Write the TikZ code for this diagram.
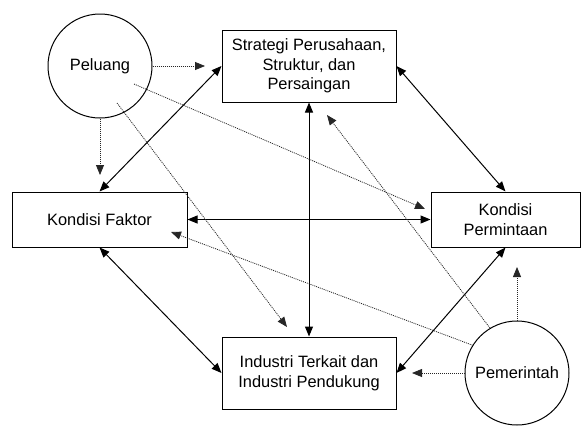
\documentclass[tikz,border=0pt]{standalone}
\usepackage{fontspec}
\setmainfont{Liberation Sans}
\usepackage{tikz}
\usetikzlibrary{arrows.meta}

\tikzset{
    kotak/.style={draw,line width=0.75pt,inner sep=0pt,align=center},
    bulat/.style={draw,circle,line width=0.75pt,inner sep=0pt,minimum size=78pt},
    panah/.style={line width=0.75pt,{Triangle[length=7.5pt,width=6pt]}-{Triangle[length=7.5pt,width=6pt]}},
    titik/.style={black!85,line width=0.6pt,dash pattern=on 0.75pt off 0.75pt,-{Triangle[length=7.5pt,width=6pt]}}
}

\begin{document}
\begin{tikzpicture}[x=0.75pt,y=-0.75pt,font=\fontsize{12.3}{14.8}\selectfont]
    \useasboundingbox (0,0) rectangle (581,425);
    % faktor-faktor
    \node[bulat] (pel) at (100,66) {Peluang};
    \node[bulat] (pem) at (517,373) {Pemerintah};
    \node[kotak,minimum width=130.5pt,minimum height=54pt] (strat) at (309,66)
        {Strategi Perusahaan,\\Struktur, dan\\Persaingan};
    \node[kotak,minimum width=131.25pt,minimum height=41.25pt] (faktor) at (99.5,219.5) {Kondisi Faktor};
    \node[kotak,minimum width=111.75pt,minimum height=41.25pt] (minta) at (505.5,219.5) {Kondisi\\Permintaan};
    \node[kotak,minimum width=130.5pt,minimum height=54pt] (ind) at (309,373)
        {Industri Terkait dan\\Industri Pendukung};

    % hubungan utama
    \draw[panah] (strat.west) -- (faktor.north);
    \draw[panah] (strat.east) -- (minta.north);
    \draw[panah] (strat.south) -- (ind.north);
    \draw[panah] (faktor.east) -- (minta.west);
    \draw[panah] (faktor.south) -- (ind.west);
    \draw[panah] (minta.south) -- (ind.east);

    % ujung panah pengaruh
    \coordinate (pel-s) at (205,66);
    \coordinate (pel-f) at (100,175);
    \coordinate (pel-m0) at (134,84);
    \coordinate (pel-m) at (425,209);
    \coordinate (pel-i0) at (117,103);
    \coordinate (pel-i) at (287,327);
    \coordinate (pem-f) at (171,232);
    \coordinate (pem-s) at (327,115);
    \coordinate (pem-i) at (412,373);
    \coordinate (pem-m) at (517,267);

    % pengaruh peluang dan pemerintah
    \draw[titik] (pel.east) -- (pel-s);
    \draw[titik] (pel.south) -- (pel-f);
    \draw[titik] (pel-m0) -- (pel-m);
    \draw[titik] (pel-i0) -- (pel-i);
    \draw[titik] (pem.148) -- (pem-f);
    \draw[titik] (pem.121) -- (pem-s);
    \draw[titik] (pem.west) -- (pem-i);
    \draw[titik] (pem.north) -- (pem-m);
\end{tikzpicture}
\end{document}
